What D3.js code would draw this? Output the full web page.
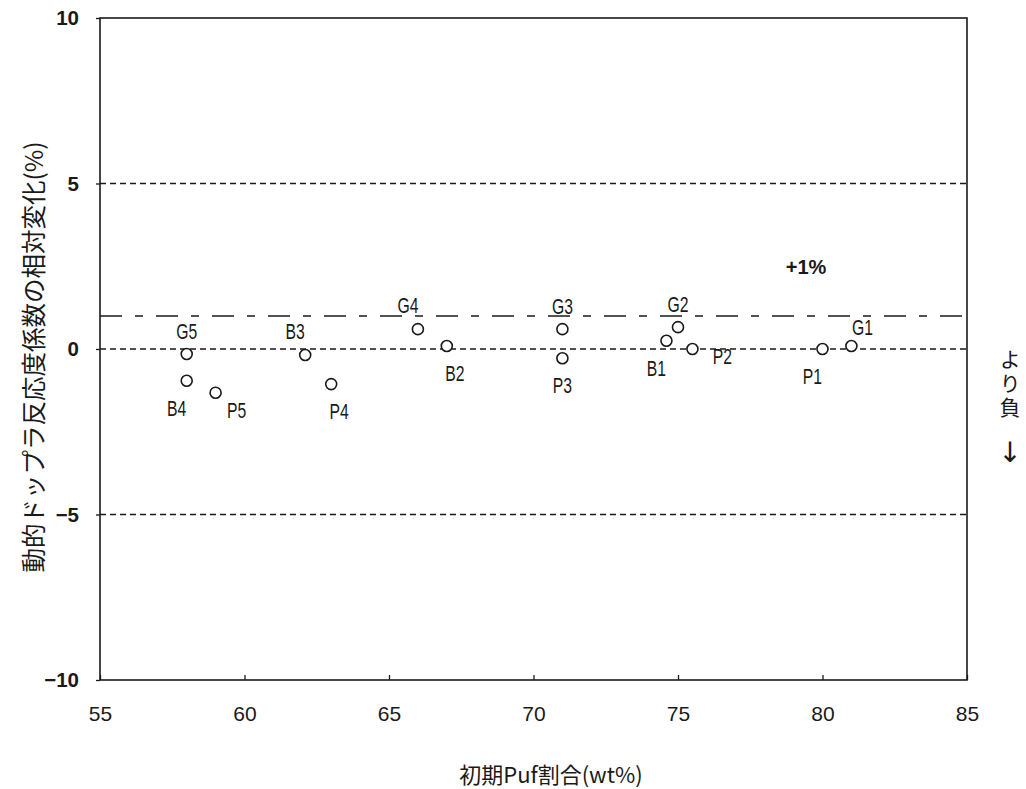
<!DOCTYPE html>
<html><head><meta charset="utf-8">
<script src="https://cdn.jsdelivr.net/npm/d3@7"></script>
<style>
html,body{margin:0;padding:0;background:#fff;}
svg{display:block;}
</style>
</head><body>
<svg id="chart" width="1026" height="789"></svg>
<script>
// ---- data ----
const names   = ["G5","B4","P5","B3","P4","G4","B2","G3","P3","G2","B1","P2","P1","G1"];
const xValues = [58.0,58.0,59.0,62.1,63.0,66.0,67.0,71.0,71.0,75.0,74.6,75.5,80.0,81.0];
const yValues = [-0.15,-0.96,-1.32,-0.18,-1.06,0.60,0.09,0.60,-0.28,0.66,0.25,0.0,0.0,0.09];
const labelSide = ["up","downLeft","right","upLeft","downRight","upLeft","downRight","up","down","up","downLeft","farRight","downLeft","upRight"];
const xTicks = [55,60,65,70,75,80,85];
const yTicks = [-10,-5,0,5,10];
const dottedLevels = [5,0,-5];
const limitLevel = 1;
const xTitle = "初期Puf割合(wt%)";
const yTitle = "動的ドップラ反応度係数の相対変化(%)";
const limitText = "+1%";
const sideText = "より負";

// ---- layout ----
const svg = d3.select("#chart");
const L = 100, R = 967, T = 18, B = 680;
const x = d3.scaleLinear().domain([55,85]).range([L,R]);
const y = d3.scaleLinear().domain([-10,10]).range([B,T]);
const ink = "#1a1a1a";

// reference lines
svg.selectAll("line.dot").data(dottedLevels).enter().append("line")
  .attr("x1",L).attr("x2",R).attr("y1",d=>y(d)).attr("y2",d=>y(d))
  .attr("stroke",ink).attr("stroke-width",1.3).attr("stroke-dasharray","6,4");
svg.append("line").attr("x1",L).attr("x2",R).attr("y1",y(limitLevel)).attr("y2",y(limitLevel))
  .attr("stroke",ink).attr("stroke-width",1.5).attr("stroke-dasharray","22,13,8,13");

// axes
const xAxis = d3.axisBottom(x).tickValues(xTicks).tickSize(-5).tickPadding(26).tickFormat(d3.format("d"));
const gx = svg.append("g").attr("transform",`translate(0,${B})`).call(xAxis);
gx.select(".domain").remove();
gx.selectAll(".tick line").attr("stroke",ink).attr("stroke-width",1.3);
gx.selectAll(".tick text").attr("fill",ink).attr("font-family","Liberation Sans, Arial, sans-serif")
  .attr("font-size",21);

const yAxis = d3.axisLeft(y).tickValues(yTicks).tickSize(4).tickPadding(17)
  .tickFormat(d=> d<0 ? "\u2212"+Math.abs(d) : d);
const gy = svg.append("g").attr("transform",`translate(${L},0)`).call(yAxis);
gy.select(".domain").remove();
gy.selectAll(".tick line").attr("stroke",ink).attr("stroke-width",1.3);
gy.selectAll(".tick text").attr("fill",ink).attr("font-family","Liberation Sans, Arial, sans-serif")
  .attr("font-size",20.5).attr("font-weight","bold");

// frame
svg.append("rect").attr("x",L).attr("y",T).attr("width",R-L).attr("height",B-T)
  .attr("fill","none").attr("stroke",ink).attr("stroke-width",1.6);

// points
const pts = names.map((n,i)=>({n, x:xValues[i], y:yValues[i], side:labelSide[i]}));
svg.selectAll("circle.pt").data(pts).enter().append("circle")
  .attr("cx",d=>x(d.x)).attr("cy",d=>y(d.y)).attr("r",5.5)
  .attr("fill","#fff").attr("stroke",ink).attr("stroke-width",1.6);

const off = {
  up:[0,-23], down:[0,27], downLeft:[-10,27], downRight:[8,27],
  upLeft:[-10,-24], upRight:[11,-19], right:[21,17], farRight:[30,7]
};
svg.selectAll("text.lab").data(pts).enter().append("text")
  .attr("transform",d=>`translate(${x(d.x)+off[d.side][0]},${y(d.y)+off[d.side][1]}) scale(0.7,1)`)
  .attr("text-anchor","middle").attr("dominant-baseline","central")
  .attr("font-family","Liberation Sans, Arial, sans-serif")
  .attr("font-size",22.5).attr("fill",ink).text(d=>d.n);

// titles
svg.append("text").attr("x",551).attr("y",773).attr("text-anchor","middle").attr("dominant-baseline","central")
  .attr("font-family","Noto Sans CJK JP, sans-serif").attr("font-size",22).attr("fill",ink).text(xTitle);
svg.append("text").attr("transform","translate(32,357) rotate(-90)").attr("text-anchor","middle")
  .attr("dominant-baseline","central")
  .attr("font-family","Noto Sans CJK JP, sans-serif").attr("font-size",24.5).attr("fill",ink).text(yTitle);

svg.append("text").attr("x",806).attr("y",267).attr("text-anchor","middle").attr("dominant-baseline","central")
  .attr("font-family","Liberation Sans, Arial, sans-serif").attr("font-weight","bold").attr("font-size",20)
  .attr("fill",ink).text(limitText);

svg.append("text").attr("x",1010).attr("y",349)
  .attr("style","writing-mode:vertical-rl;text-orientation:upright;letter-spacing:3px")
  .attr("font-family","Noto Sans CJK JP, sans-serif").attr("font-size",21).attr("fill",ink).text(sideText);
svg.append("text").attr("x",1010).attr("y",452).attr("text-anchor","middle").attr("dominant-baseline","central")
  .attr("font-family","DejaVu Sans, sans-serif").attr("font-size",28).attr("fill",ink).text("\u2193");
</script>
</body></html>
